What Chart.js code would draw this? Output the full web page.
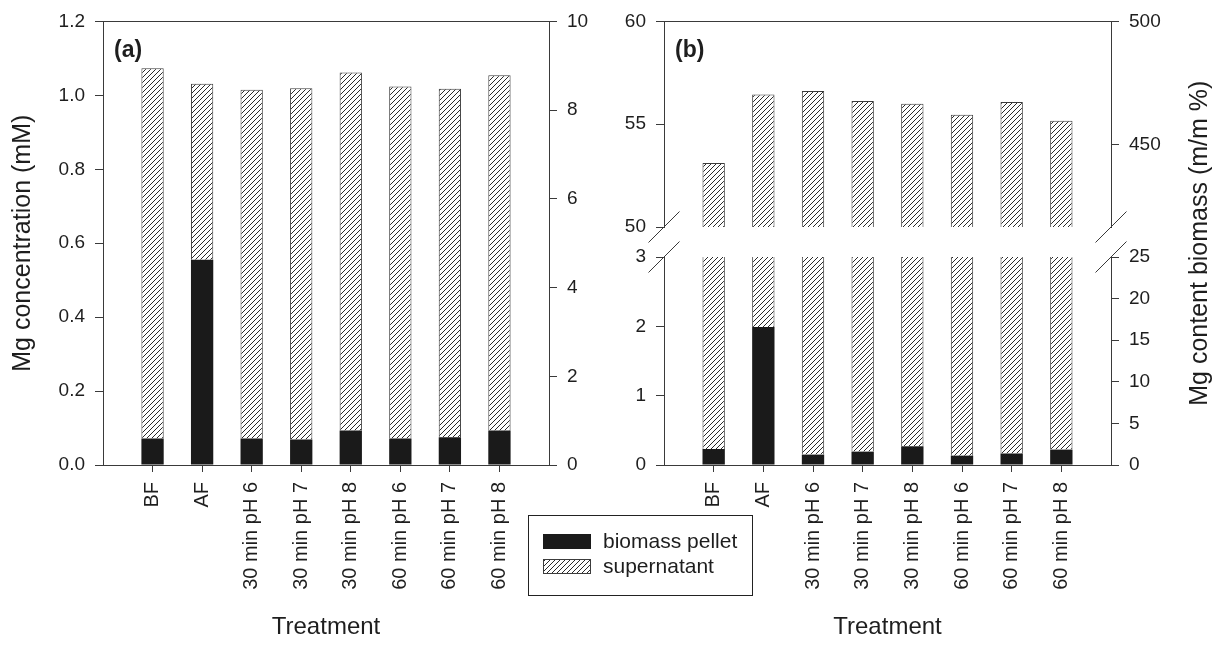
<!DOCTYPE html>
<html><head><meta charset="utf-8">
<script src="https://cdn.jsdelivr.net/npm/chart.js@4.4.1/dist/chart.umd.min.js"></script>
<style>
html,body{margin:0;padding:0;background:#fff;}
#wrap{position:relative;width:1221px;height:646px;overflow:hidden;background:#fff;}
#wrap canvas{position:absolute;left:0;top:0;}
</style></head><body>
<div id="wrap">
<canvas id="cA" width="1221" height="646"></canvas>
<canvas id="cBu" width="1221" height="646"></canvas>
<canvas id="cBl" width="1221" height="646"></canvas>
</div>
<script>
// ---------- data ----------
const categories = ['BF','AF','30 min pH 6','30 min pH 7','30 min pH 8','60 min pH 6','60 min pH 7','60 min pH 8'];
const seriesNames = ['biomass pellet','supernatant'];
// panel (a) Mg concentration (mM)
const pelletA = [0.072,0.555,0.072,0.069,0.093,0.072,0.075,0.093];
const supernatantA = [1.001,0.476,0.943,0.950,0.969,0.952,0.943,0.961];
// panel (b) (left-axis units)
const pelletB = [0.231,1.99,0.150,0.193,0.270,0.135,0.166,0.222];
const supernatantB = [52.88,54.46,56.46,55.94,55.72,55.33,55.91,54.95];
// axes
const rangeA = [0,1.2], ticksA = [0,0.2,0.4,0.6,0.8,1.0,1.2];
const rangeA2 = [0,10], ticksA2 = [0,2,4,6,8,10];
const rangeBLow = [0,3], ticksBLow = [0,1,2,3];
const rangeBLow2 = [0,25], ticksBLow2 = [0,5,10,15,20,25];
const rangeBUp = [50,60], ticksBUp = [50,55,60];
const rangeBUp2 = [416.67,500], ticksBUp2 = [450,500];
const titleA = 'Mg concentration (mM)';
const titleB = 'Mg content biomass (m/m %)';
const titleX = 'Treatment';

// ---------- style ----------
const FONT = "'Liberation Sans', Arial, sans-serif";
const TXT = '#1e1e1e';
const LINE = '#3a3a3a';
Chart.defaults.font.family = FONT;
Chart.defaults.color = TXT;

function makeHatch(){
  const s = 5;
  const c = document.createElement('canvas'); c.width = s; c.height = s;
  const g = c.getContext('2d');
  g.fillStyle = '#fff'; g.fillRect(0,0,s,s);
  g.strokeStyle = '#2a2a2a'; g.lineWidth = 1;
  g.beginPath();
  g.moveTo(0,s); g.lineTo(s,0);
  g.moveTo(-1,1); g.lineTo(1,-1);
  g.moveTo(s-1,s+1); g.lineTo(s+1,s-1);
  g.stroke();
  return g.createPattern(c,'repeat');
}
const hatch = makeHatch();

function makeDatasets(pellet, sup){
  return [
    {label: seriesNames[0], data: pellet.map((v,i)=>({x:i,y:v})), backgroundColor:'#1a1a1a',
     borderColor:'#1a1a1a', borderWidth:0, clip:0, barPercentage:0.45, categoryPercentage:1},
    {label: seriesNames[1], data: sup.map((v,i)=>({x:i,y:v})), backgroundColor:hatch,
     borderColor:'#3c3c3c', borderWidth:1, clip:0, barPercentage:0.45, categoryPercentage:1}
  ];
}

const gridOpts = {drawOnChartArea:false, drawTicks:true, tickLength:8, color:LINE, lineWidth:1};
const borderOpts = {display:true, color:LINE, width:1};

function xScale(show){
  const s = {
    type:'linear', min:-1, max:categories.length, stacked:true, display:show, offset:false,
    afterBuildTicks:(sc)=>{ sc.ticks = categories.map((c,i)=>({value:i})); },
    ticks:{autoSkip:false, minRotation:90, maxRotation:90, padding:10,
      font:{size:20}, color:TXT, callback:(v)=>categories[Math.round(v)]},
    grid:{drawOnChartArea:false, drawTicks:true, tickLength:7, color:LINE, offset:false},
    border:borderOpts,
    title:{display:show, text:titleX, font:{size:24}, color:TXT, padding:{top:0,bottom:0}}
  };
  if(show) s.afterFit = (sc)=>{ sc.height = 177; };
  return s;
}
function topScale(){
  return {type:'linear', position:'top', display:true, offset:false, ticks:{display:false},
    grid:{display:false, drawTicks:false}, border:borderOpts};
}
function yScale(pos, range, tickArr, width, fmt, title){
  return {
    type:'linear', position:pos, min:range[0], max:range[1], stacked: pos==='left',
    afterBuildTicks:(s)=>{ s.ticks = tickArr.map(v=>({value:v})); },
    ticks:{font:{size:19}, color:TXT, padding:10, callback: fmt || ((v)=>String(v))},
    grid:gridOpts, border:borderOpts,
    title: title ? {display:true, text:title, font:{size:25}, color:TXT, padding:{top:8,bottom:0}} : {display:false},
    afterFit:(s)=>{ s.width = width; }
  };
}

const panelTag = {
  id:'panelTag',
  afterDraw(chart, args, opts){
    if(!opts.text) return;
    const {ctx, chartArea} = chart;
    ctx.save();
    ctx.font = 'bold 23px ' + FONT;
    ctx.fillStyle = TXT; ctx.textBaseline = 'alphabetic'; ctx.textAlign = 'left';
    ctx.fillText(opts.text, chartArea.left + 11, chartArea.top + 36);
    ctx.restore();
  }
};

const breakMarks = {
  id:'breakMarks',
  afterDraw(chart, args, opts){
    if(!opts.edge) return;
    const {ctx, chartArea} = chart;
    const y = opts.edge === 'bottom' ? chartArea.bottom : chartArea.top;
    const d = 15.5;
    ctx.save();
    ctx.strokeStyle = LINE; ctx.lineWidth = 1;
    [chartArea.left, chartArea.right].forEach(x=>{
      ctx.beginPath(); ctx.moveTo(x-d, y+d); ctx.lineTo(x+d, y-d); ctx.stroke();
    });
    ctx.restore();
  }
};

const baseOpts = {responsive:false, animation:false, devicePixelRatio:1, events:[]};

// ---------- panel (a) ----------
const chartA = new Chart(document.getElementById('cA'), {
  type:'bar',
  data:{datasets: makeDatasets(pelletA, supernatantA)},
  plugins:[panelTag],
  options:{...baseOpts,
    layout:{padding:{left:0, right:621, top:19, bottom:4}},
    plugins:{legend:{display:false}, tooltip:{enabled:false}, panelTag:{text:'(a)'}},
    scales:{
      x: xScale(true),
      xTop: topScale(),
      y: yScale('left', rangeA, ticksA, 103, (v)=>v.toFixed(1), titleA),
      y2: yScale('right', rangeA2, ticksA2, 51)
    }
  }
});

// ---------- panel (b) upper ----------
const chartBu = new Chart(document.getElementById('cBu'), {
  type:'bar',
  data:{datasets: makeDatasets(pelletB, supernatantB)},
  plugins:[panelTag, breakMarks],
  options:{...baseOpts,
    layout:{padding:{left:600, right:0, top:19, bottom:419}},
    plugins:{legend:{display:false}, tooltip:{enabled:false}, panelTag:{text:'(b)'}, breakMarks:{edge:'bottom'}},
    scales:{
      x: xScale(false),
      xTop: topScale(),
      y: yScale('left', rangeBUp, ticksBUp, 64),
      y2: yScale('right', rangeBUp2, ticksBUp2, 110)
    }
  }
});

// ---------- panel (b) lower ----------
const rightTitle = {
  id:'rightTitle',
  afterDraw(chart){
    const {ctx, chartArea} = chart;
    const top = chartBu.chartArea.top;
    const cy = (top + chartArea.bottom)/2;
    ctx.save();
    ctx.translate(chartArea.right + 96, cy);
    ctx.rotate(-Math.PI/2);
    ctx.font = '25px ' + FONT; ctx.fillStyle = TXT;
    ctx.textAlign = 'center'; ctx.textBaseline = 'alphabetic';
    ctx.fillText(titleB, 0, 0);
    ctx.restore();
  }
};
const legendBox = {
  id:'legendBox',
  afterDraw(chart){
    const ctx = chart.ctx;
    const L = {x:528.5, y:515.5, w:224, h:80};
    ctx.save();
    ctx.fillStyle = '#fff'; ctx.fillRect(L.x, L.y, L.w, L.h);
    ctx.strokeStyle = '#222'; ctx.lineWidth = 1; ctx.strokeRect(L.x, L.y, L.w, L.h);
    ctx.font = '21px ' + FONT; ctx.textBaseline = 'middle'; ctx.textAlign = 'left';
    chart.data.datasets.forEach((ds,i)=>{
      const sx = L.x + 14.5, sy = L.y + 18.5 + i*25;
      ctx.fillStyle = ds.backgroundColor; ctx.fillRect(sx, sy, 48, 15);
      if(ds.borderWidth){ ctx.strokeStyle = ds.borderColor; ctx.strokeRect(sx+0.5, sy+0.5, 47, 14); }
      ctx.fillStyle = TXT;
      ctx.fillText(ds.label, L.x + 74.5, sy + 8);
    });
    ctx.restore();
  }
};
const chartBl = new Chart(document.getElementById('cBl'), {
  type:'bar',
  data:{datasets: makeDatasets(pelletB, supernatantB)},
  plugins:[breakMarks, rightTitle, legendBox],
  options:{...baseOpts,
    layout:{padding:{left:600, right:0, top:257, bottom:4}},
    plugins:{legend:{display:false}, tooltip:{enabled:false}, breakMarks:{edge:'top'}},
    scales:{
      x: xScale(true),
      y: yScale('left', rangeBLow, ticksBLow, 64),
      y2: yScale('right', rangeBLow2, ticksBLow2, 110)
    }
  }
});
</script>
</body></html>
